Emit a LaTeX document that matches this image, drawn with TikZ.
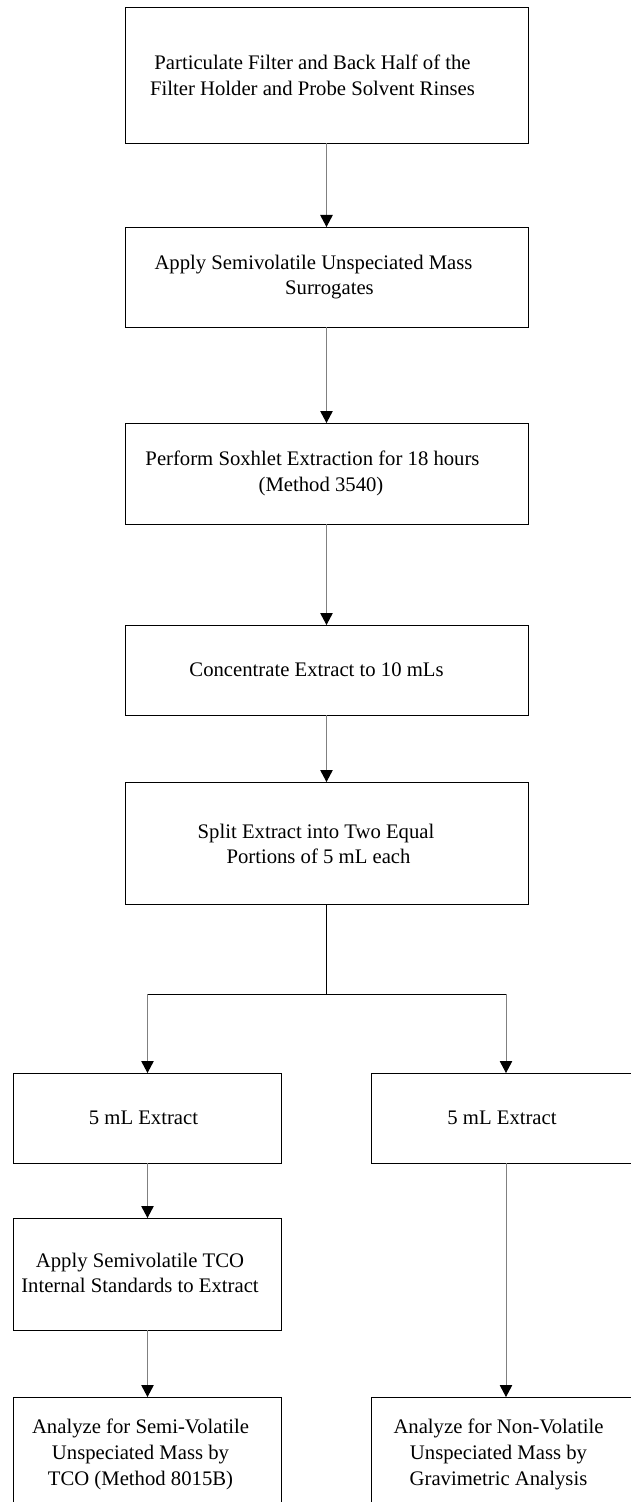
\documentclass[tikz,border=0pt]{standalone}
\usepackage{fontspec}
\setmainfont{Liberation Serif}
\usetikzlibrary{arrows.meta}
\begin{document}
\begin{tikzpicture}[x=1bp,y=-1bp,
 box/.style={draw=black, line width=0.9bp, minimum width=403bp, inner sep=0pt, outer sep=0pt},
 sbox/.style={box, minimum width=268.5bp},
 lbl/.style={font=\fontsize{20.7bp}{25.8bp}\selectfont, align=center, inner sep=0pt},
 conn/.style={draw=black!50, line width=0.9bp, -{Triangle[length=12bp,width=12.5bp,color=black]}},
 split/.style={draw=black, line width=1.5bp},
 bar/.style={draw=black, line width=1bp}
]
\useasboundingbox (0,0) rectangle (631,1502);
\clip (0,0) rectangle (631,1502);

% main column
\node[box, minimum height=136bp] (b1) at (326.5,75) {};
\node[lbl] (t1) at ([xshift=-14bp]b1.center) {Particulate Filter and Back Half of the\\Filter Holder and Probe Solvent Rinses};

\node[box, minimum height=100bp] (b2) at (326.5,277) {};
\node[lbl] (t2) at ([xshift=3bp]b2.center) {Apply Semivolatile Unspeciated Mass\hspace*{32bp}\\Surrogates};

\node[box, minimum height=101bp] (b3) at (326.5,473.5) {};
\node[lbl] (t3) at ([xshift=-5.5bp]b3.center) {Perform Soxhlet Extraction for 18 hours\hspace*{17bp}\\(Method 3540)};

\node[box, minimum height=90bp] (b4) at (326.5,670) {};
\node[lbl] (t4) at ([xshift=-10bp]b4.center) {Concentrate Extract to 10 mLs};

\node[box, minimum height=122bp] (b5) at (326.5,843) {};
\node[lbl] (t5) at ([xshift=-8bp,yshift=-1bp]b5.center) {Split Extract into Two Equal\hspace*{5bp}\\Portions of 5 mL each};

% split junction
\coordinate (j) at (326.5,994);
\coordinate (jl) at (147.5,994);
\coordinate (jr) at (506,994);

% left branch
\node[sbox, minimum height=90bp] (l1) at (147.5,1118) {};
\node[lbl] (tl1) at ([xshift=-4bp]l1.center) {5 mL Extract};

\node[sbox, minimum height=112bp] (l2) at (147.5,1274) {};
\node[lbl] (tl2) at ([xshift=-7.5bp,yshift=1bp]l2.center) {Apply Semivolatile TCO\\Internal Standards to Extract};

\node[sbox, minimum height=115bp] (l3) at (147.5,1454.5) {};
\node[lbl] (tl3) at ([xshift=-7bp]l3.center) {Analyze for Semi-Volatile\\Unspeciated Mass by\\TCO (Method 8015B)};

% right branch
\node[sbox, minimum height=90bp] (r1) at (506,1118) {};
\node[lbl] (tr1) at ([xshift=-4bp]r1.center) {5 mL Extract};

\node[sbox, minimum height=115bp] (r3) at (506,1454.5) {};
\node[lbl] (tr3) at ([xshift=-7.5bp]r3.center) {Analyze for Non-Volatile\\Unspeciated Mass by\\Gravimetric Analysis};

% connectors
\draw[conn] (b1.south) -- (b2.north);
\draw[conn] (b2.south) -- (b3.north);
\draw[conn] (b3.south) -- (b4.north);
\draw[conn] (b4.south) -- (b5.north);
\draw[split] (b5.south) -- (j);
\draw[bar] (jl) -- (jr);
\draw[conn] (jl) -- (l1.north);
\draw[conn] (jr) -- (r1.north);
\draw[conn] (l1.south) -- (l2.north);
\draw[conn] (l2.south) -- (l3.north);
\draw[conn] (r1.south) -- (r3.north);
\end{tikzpicture}
\end{document}
